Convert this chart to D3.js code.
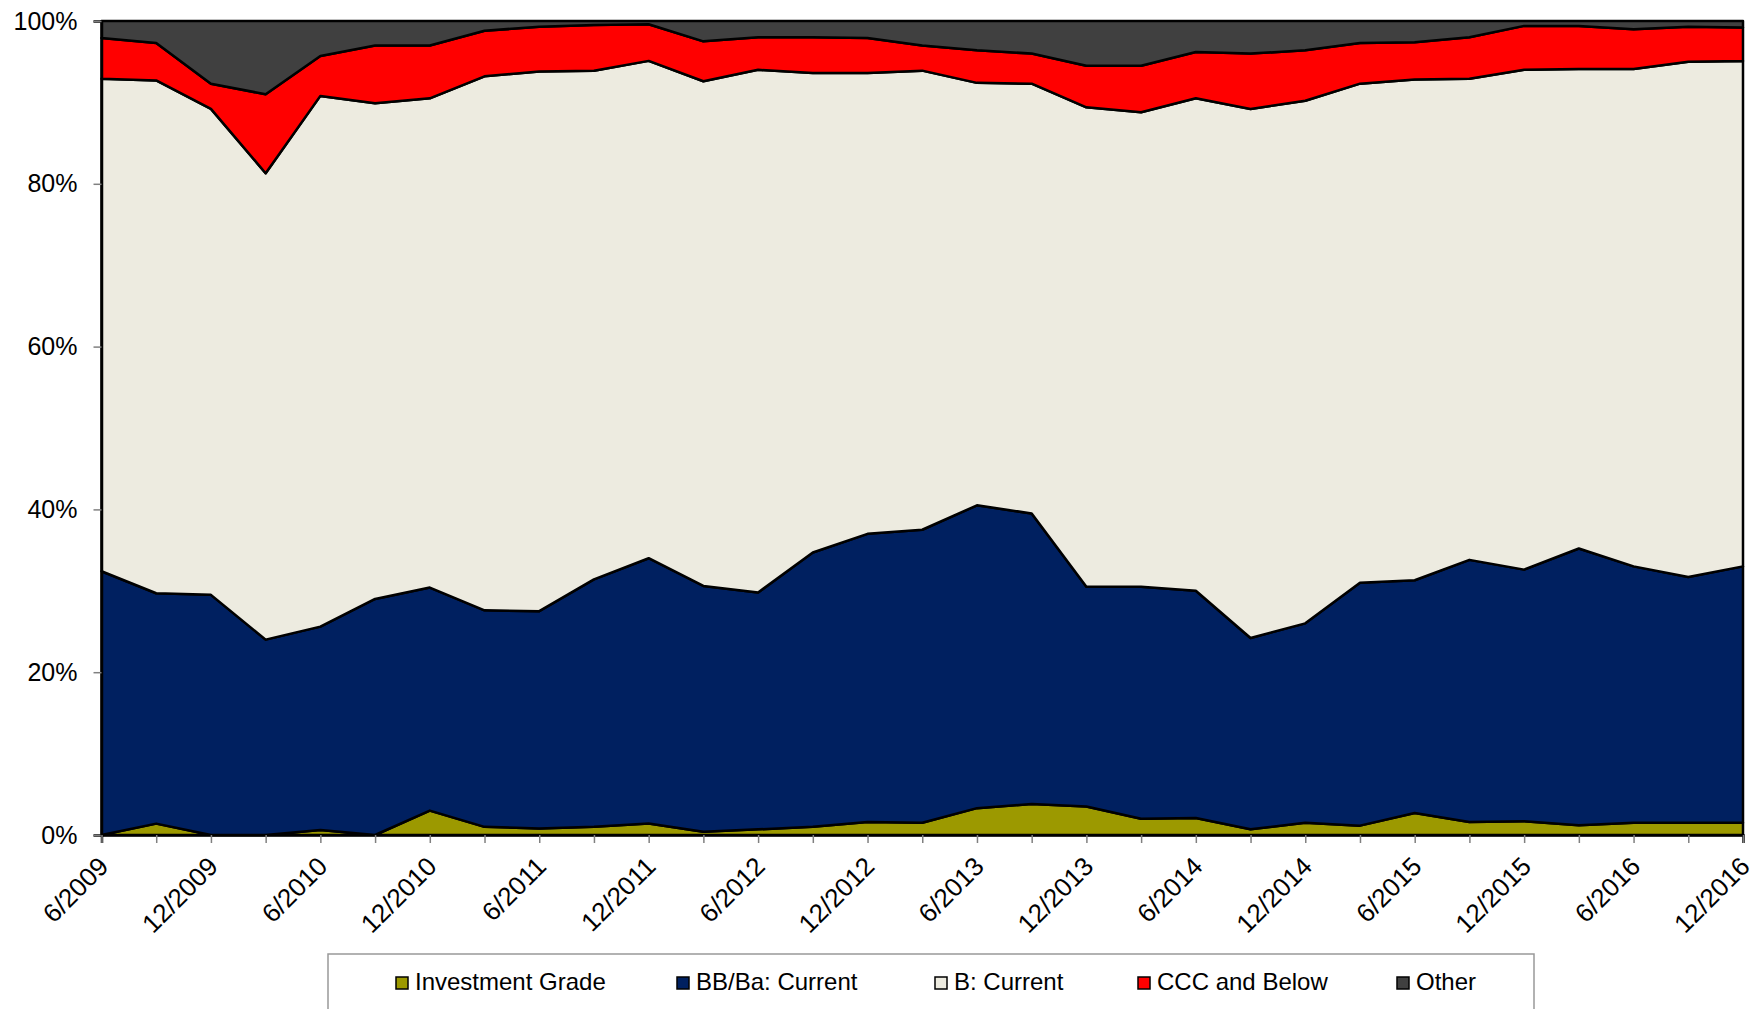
<!DOCTYPE html>
<html>
<head>
<meta charset="utf-8">
<script src="https://cdn.jsdelivr.net/npm/d3@7"></script>
<style>
  html, body { margin: 0; padding: 0; background: #fff; }
  svg { display: block; }
  text { font-family: "Liberation Sans", Arial, sans-serif; fill: #000; }
</style>
</head>
<body>
<svg id="chart" width="1758" height="1009"></svg>
<script>
// ---- data ----
const periods = ["6/2009","9/2009","12/2009","3/2010","6/2010","9/2010","12/2010","3/2011","6/2011","9/2011","12/2011","3/2012","6/2012","9/2012","12/2012","3/2013","6/2013","9/2013","12/2013","3/2014","6/2014","9/2014","12/2014","3/2015","6/2015","9/2015","12/2015","3/2016","6/2016","9/2016","12/2016"];
const tickLabels = ["6/2009","12/2009","6/2010","12/2010","6/2011","12/2011","6/2012","12/2012","6/2013","12/2013","6/2014","12/2014","6/2015","12/2015","6/2016","12/2016"];
const seriesNames = ["Investment Grade","BB/Ba: Current","B: Current","CCC and Below","Other"];
const investmentGrade = [0,1.4,0,0,0.6,0,3.0,1.0,0.8,1.0,1.4,0.4,0.7,1.0,1.6,1.5,3.3,3.8,3.5,2.0,2.1,0.7,1.5,1.15,2.7,1.6,1.7,1.2,1.5,1.5,1.5];
const bbCurrent = [32.4,28.3,29.5,24.0,25.0,29.0,27.4,26.6,26.7,30.4,32.6,30.2,29.1,33.7,35.4,36.0,37.2,35.7,27.0,28.5,27.9,23.5,24.5,29.85,28.6,32.2,30.9,34.0,31.5,30.2,31.5];
const bCurrent = [60.5,63.0,59.7,57.3,65.2,60.9,60.1,65.6,66.3,62.5,61.1,62.0,64.2,58.9,56.6,56.4,51.9,52.8,58.9,58.3,60.5,65.0,64.2,61.3,61.5,59.1,61.4,58.9,61.1,63.3,62.1];
const cccBelow = [5.0,4.6,3.1,9.7,4.9,7.1,6.5,5.6,5.5,5.6,4.5,4.9,4.0,4.4,4.3,3.1,4.0,3.7,5.1,5.7,5.7,6.8,6.2,5.0,4.6,5.1,5.4,5.3,4.9,4.3,4.1];
const other = [2.1,2.7,7.7,9.0,4.3,3.0,3.0,1.2,0.7,0.5,0.4,2.5,2.0,2.0,2.1,3.0,3.6,4.0,5.5,5.5,3.8,4.0,3.6,2.7,2.6,2.0,0.6,0.6,1.0,0.7,0.8];
const yTicks = [0,20,40,60,80,100];
const colors = ["#9C9900","#002060","#EDEBE0","#FF0000","#404040"];

// ---- build table ----
const seriesArrays = [investmentGrade, bbCurrent, bCurrent, cccBelow, other];
const table = periods.map((p, i) => {
  const row = { period: p };
  seriesNames.forEach((n, k) => row[n] = seriesArrays[k][i]);
  return row;
});

const svg = d3.select("#chart");
const W = 1758, H = 1009;
const margin = { left: 101.5, right: W - 1743, top: 21, bottom: H - 835 };

const x = d3.scalePoint().domain(periods).range([margin.left, W - margin.right]);
const y = d3.scaleLinear().domain([0, 100]).range([H - margin.bottom, margin.top]);

const stacked = d3.stack().keys(seriesNames).offset(d3.stackOffsetExpand)(table);

const area = d3.area()
  .x(d => x(d.data.period))
  .y0(d => y(d[0] * 100))
  .y1(d => y(d[1] * 100));

// plot area border
svg.append("rect")
  .attr("x", margin.left).attr("y", margin.top)
  .attr("width", W - margin.right - margin.left)
  .attr("height", H - margin.bottom - margin.top)
  .attr("fill", "none").attr("stroke", "#808080").attr("stroke-width", 1.5);

svg.append("g").selectAll("path")
  .data(stacked)
  .join("path")
  .attr("d", area)
  .attr("fill", (d, i) => colors[i])
  .attr("stroke", "#000")
  .attr("stroke-width", 2.5)
  .attr("stroke-linejoin", "round");

// y axis
const yAxis = d3.axisLeft(y).tickValues(yTicks).tickFormat(d => d + "%").tickSize(8).tickPadding(16);
const gy = svg.append("g").attr("transform", `translate(${margin.left},0)`).call(yAxis);
gy.select(".domain").attr("stroke", "#000").attr("stroke-width", 2.5);
gy.selectAll(".tick line").attr("stroke", "#808080").attr("stroke-width", 1.5);
gy.selectAll(".tick text").attr("font-size", 25).attr("font-family", "Liberation Sans, Arial, sans-serif").attr("fill", "#000");

// x axis
const xAxis = d3.axisBottom(x).tickSize(8).tickFormat(d => tickLabels.includes(d) ? d : "");
const gx = svg.append("g").attr("transform", `translate(0,${H - margin.bottom})`).call(xAxis);
gx.select(".domain").attr("stroke", "#000").attr("stroke-width", 2.5);
gx.selectAll(".tick line").attr("stroke", "#808080").attr("stroke-width", 1.5);
gx.selectAll(".tick text")
  .attr("font-size", 26)
  .attr("font-family", "Liberation Sans, Arial, sans-serif")
  .attr("fill", "#000")
  .attr("text-anchor", "end")
  .attr("dy", null)
  .attr("y", 0)
  .attr("transform", "translate(8,33) rotate(-45)");

// legend
const legend = svg.append("g");
legend.append("rect")
  .attr("x", 328).attr("y", 954).attr("width", 1534 - 328).attr("height", 100)
  .attr("fill", "#fff").attr("stroke", "#999").attr("stroke-width", 1.5);
const legendX = [396, 677, 935, 1138, 1397];
const items = legend.selectAll("g.item").data(seriesNames).join("g").attr("class", "item")
  .attr("transform", (d, i) => `translate(${legendX[i]},977)`);
items.append("rect").attr("width", 12).attr("height", 12)
  .attr("fill", (d, i) => colors[i]).attr("stroke", "#000").attr("stroke-width", 1.5);
items.append("text").attr("x", 19).attr("y", 13).attr("font-size", 24).text(d => d);
</script>
</body>
</html>
